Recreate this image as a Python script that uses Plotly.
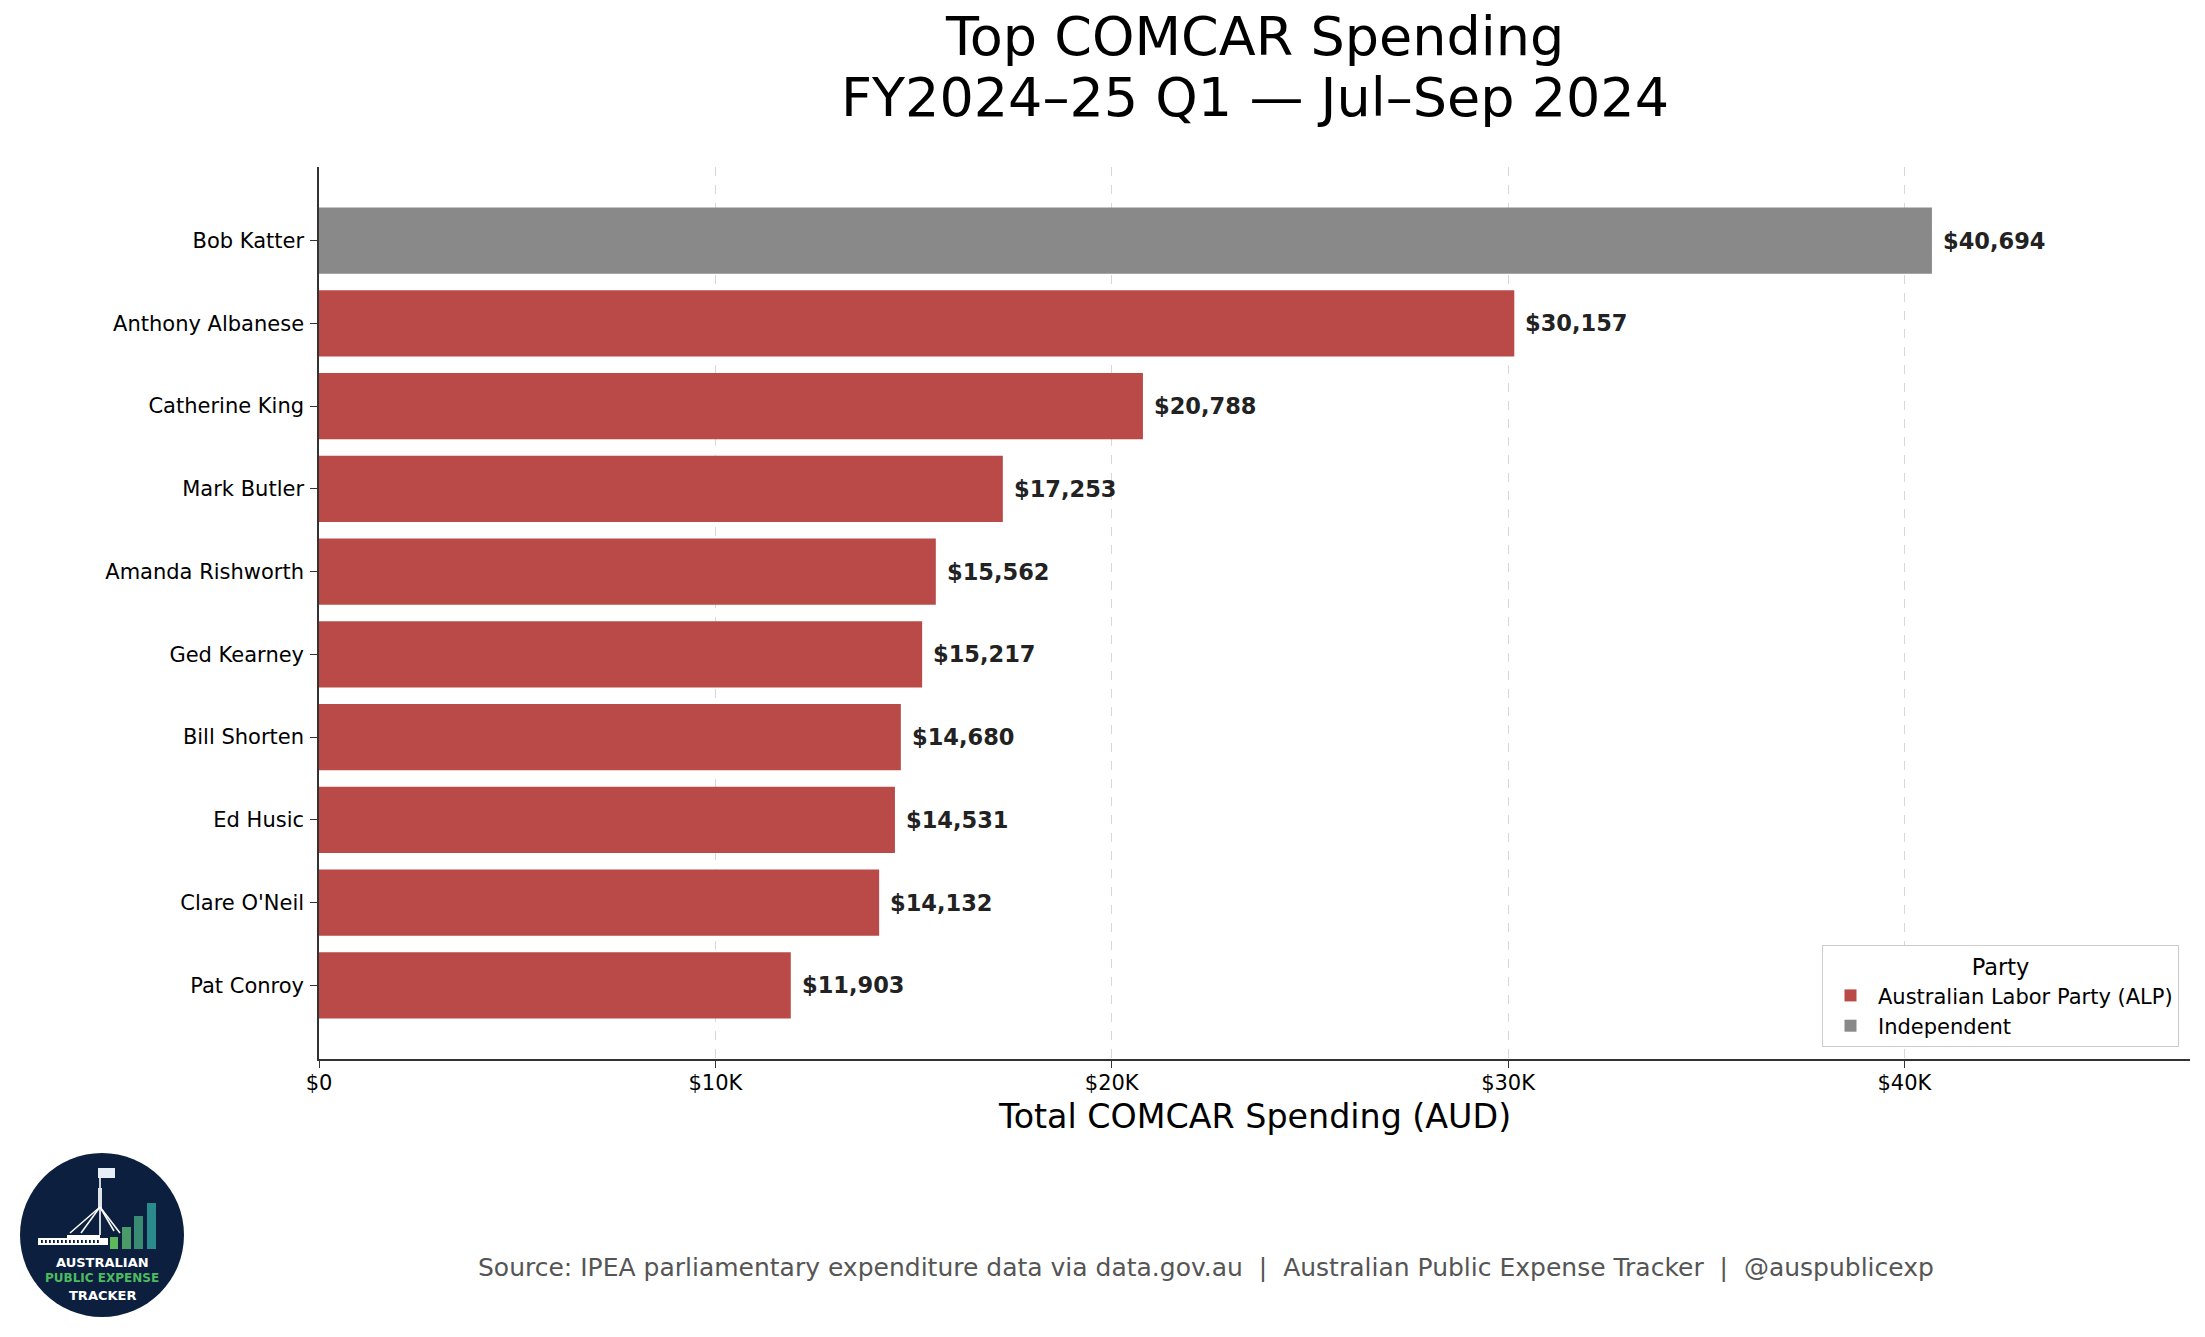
import plotly.graph_objects as go

# ---------------- data ----------------
names = ["Bob Katter", "Anthony Albanese", "Catherine King", "Mark Butler",
         "Amanda Rishworth", "Ged Kearney", "Bill Shorten", "Ed Husic",
         "Clare O'Neil", "Pat Conroy"]
spending = [40694, 30157, 20788, 17253, 15562, 15217, 14680, 14531, 14132, 11903]
parties = ["Independent", "Australian Labor Party (ALP)", "Australian Labor Party (ALP)",
           "Australian Labor Party (ALP)", "Australian Labor Party (ALP)",
           "Australian Labor Party (ALP)", "Australian Labor Party (ALP)",
           "Australian Labor Party (ALP)", "Australian Labor Party (ALP)",
           "Australian Labor Party (ALP)"]
party_order = ["Australian Labor Party (ALP)", "Independent"]
party_colors = {"Australian Labor Party (ALP)": "#b94a48", "Independent": "#898989"}
x_tick_values = [0, 10000, 20000, 30000, 40000]
x_tick_labels = ["$0", "$10K", "$20K", "$30K", "$40K"]

title_line1 = "Top COMCAR Spending"
title_line2 = "FY2024–25 Q1 — Jul–Sep 2024"
x_title = "Total COMCAR Spending (AUD)"
source_text = ("Source: IPEA parliamentary expenditure data via data.gov.au  |  "
               "Australian Public Expense Tracker  |  @auspublicexp")

# ---------------- layout geometry (pixels) ----------------
W, H = 2205, 1337
L, R, T, B = 319, 15, 167, 278
PW = W - L - R
PH = H - T - B
FONT = "DejaVu Sans"


def px_x(X):
    return (X - L) / PW


def px_y(Y):
    return (H - B - Y) / PH


fig = go.Figure()

for party in party_order:
    ys = [n for n, p in zip(names, parties) if p == party]
    xs = [v for v, p in zip(spending, parties) if p == party]
    fig.add_trace(go.Bar(
        y=ys, x=xs, orientation="h", name=party,
        marker=dict(color=party_colors[party], line=dict(width=0)),
        width=0.8,
    ))

# value labels
annotations = []
for n, v in zip(names, spending):
    annotations.append(dict(
        x=v, y=n, xref="x", yref="y", text=f"<b>${v:,}</b>", showarrow=False,
        xanchor="left", yanchor="middle", xshift=9,
        font=dict(family=FONT, size=22.5, color="#222222"),
    ))

# titles / labels
annotations += [
    dict(x=0.5, y=px_y(37), xref="paper", yref="paper", text=title_line1,
         showarrow=False, xanchor="center", yanchor="middle",
         font=dict(family=FONT, size=54, color="#000000")),
    dict(x=0.5, y=px_y(97), xref="paper", yref="paper", text=title_line2,
         showarrow=False, xanchor="center", yanchor="middle",
         font=dict(family=FONT, size=54, color="#000000")),
    dict(x=0.5, y=px_y(1116), xref="paper", yref="paper", text=x_title,
         showarrow=False, xanchor="center", yanchor="middle",
         font=dict(family=FONT, size=33.3, color="#000000")),
    dict(x=px_x(1206), y=px_y(1267), xref="paper", yref="paper", text=source_text,
         showarrow=False, xanchor="center", yanchor="middle",
         font=dict(family=FONT, size=25, color="#555555")),
]

# ---------------- logo (decoration) ----------------
shapes = []
NAVY = "#0c1f3f"
cx, cy, r = 102, 1235, 82
shapes.append(dict(type="circle", xref="paper", yref="paper",
                   x0=px_x(cx - r), x1=px_x(cx + r), y0=px_y(cy + r), y1=px_y(cy - r),
                   fillcolor=NAVY, line=dict(width=0), layer="above"))


def rect(x0, y0, x1, y1, color):
    shapes.append(dict(type="rect", xref="paper", yref="paper",
                       x0=px_x(x0), x1=px_x(x1), y0=px_y(y1), y1=px_y(y0),
                       fillcolor=color, line=dict(width=0), layer="above"))


def line(x0, y0, x1, y1, color="white", w=1.5):
    shapes.append(dict(type="line", xref="paper", yref="paper",
                       x0=px_x(x0), x1=px_x(x1), y0=px_y(y0), y1=px_y(y1),
                       line=dict(color=color, width=w), layer="above"))


# parliament building
rect(38, 1238, 108, 1245, "white")
rect(67, 1235, 100, 1245, "white")
for xx in range(41, 98, 4):
    rect(xx, 1240, xx + 1.8, 1243, NAVY)
# flagpole + legs
line(100, 1177, 100, 1235, "white", 1.6)
rect(98, 1188, 102, 1208, "#dfe4ea")
line(100, 1207, 70, 1233)
line(100, 1207, 81, 1233)
line(100, 1207, 114, 1231)
line(100, 1207, 120, 1233)
rect(98, 1168, 115, 1178, "#e8eef6")
# bars
rect(110, 1237, 118, 1249, "#5cb85a")
rect(122, 1227, 131, 1249, "#4b9b68")
rect(134, 1216, 143, 1249, "#3a8b74")
rect(147, 1203, 156, 1249, "#2a8a8c")

annotations += [
    dict(x=px_x(cx), y=px_y(1262), xref="paper", yref="paper", text="<b>AUSTRALIAN</b>",
         showarrow=False, xanchor="center", yanchor="middle",
         font=dict(family=FONT, size=13, color="white")),
    dict(x=px_x(cx), y=px_y(1278), xref="paper", yref="paper", text="<b>PUBLIC EXPENSE</b>",
         showarrow=False, xanchor="center", yanchor="middle",
         font=dict(family=FONT, size=12, color="#4cbb5f")),
    dict(x=px_x(cx), y=px_y(1295), xref="paper", yref="paper", text="<b>TRACKER</b>",
         showarrow=False, xanchor="center", yanchor="middle",
         font=dict(family=FONT, size=13, color="white")),
]

fig.update_layout(
    width=W, height=H,
    margin=dict(l=L, r=R, t=T, b=B, pad=0),
    paper_bgcolor="white", plot_bgcolor="white",
    barmode="overlay",
    font=dict(family=FONT, size=21, color="#000000"),
    showlegend=True,
    legend=dict(
        title=dict(text="Party", side="top center", font=dict(family=FONT, size=22.5)),
        x=px_x(2179), y=px_y(1047), xanchor="right", yanchor="bottom",
        bgcolor="white", bordercolor="#cccccc", borderwidth=1,
        font=dict(family=FONT, size=21), traceorder="normal",
        itemsizing="constant", itemwidth=45,
    ),
    annotations=annotations,
    shapes=shapes,
)

fig.update_xaxes(
    range=[0, max(spending) * 1.16],
    tickvals=x_tick_values, ticktext=x_tick_labels,
    showline=True, linecolor="#333333", linewidth=1.5, mirror=False,
    ticks="outside", ticklen=7, tickwidth=1.3, tickcolor="#333333",
    tickfont=dict(family=FONT, size=21, color="#000000"),
    ticklabelstandoff=-3,
    showgrid=True, gridcolor="rgba(190,190,190,0.6)", griddash="dash", gridwidth=1,
    zeroline=False, layer="above traces",
)
fig.update_yaxes(
    type="category", categoryorder="array", categoryarray=names,
    range=[len(names) - 1 + 0.89, -0.89],
    showline=True, linecolor="#333333", linewidth=1.5, mirror=False,
    ticks="outside", ticklen=7, tickwidth=1.3, tickcolor="#333333",
    tickfont=dict(family=FONT, size=21, color="#000000"),
    ticklabelstandoff=2,
    showgrid=False, zeroline=False,
)

fig.write_html("out.html", config={"displayModeBar": False},
               post_script="document.body.style.margin='0';")
